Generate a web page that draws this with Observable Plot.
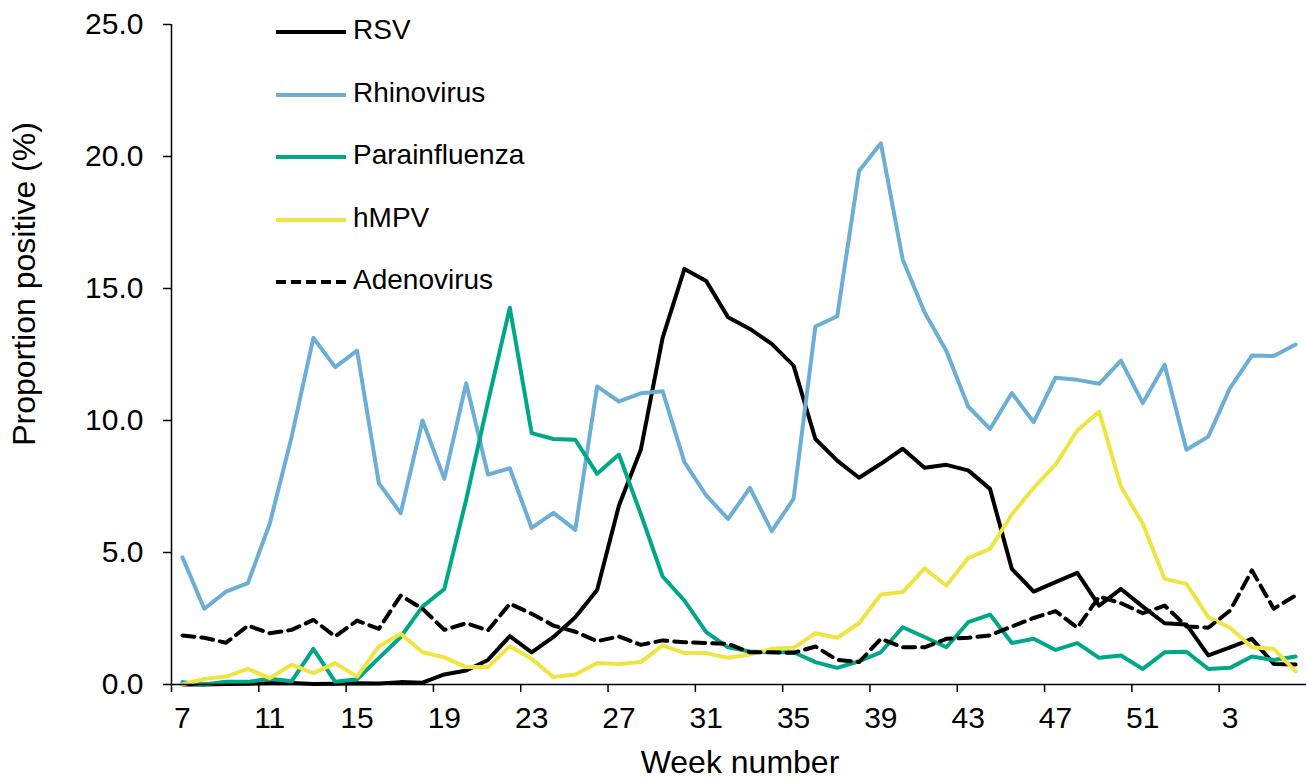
<!DOCTYPE html>
<html><head><meta charset="utf-8">
<script src="https://cdn.jsdelivr.net/npm/d3@7"></script>
<script src="https://cdn.jsdelivr.net/npm/@observablehq/plot@0.6"></script>
<style>
body{margin:0;background:#fff;}
#chart{position:relative;width:1306px;height:778px;}
</style></head><body><div id="chart"></div>
<script>
const weeks = [7,8,9,10,11,12,13,14,15,16,17,18,19,20,21,22,23,24,25,26,27,28,29,30,31,32,33,34,35,36,37,38,39,40,41,42,43,44,45,46,47,48,49,50,51,52,1,2,3,4,5,6];
const tickLabels = ["7","11","15","19","23","27","31","35","39","43","47","51","3"];
const yTicks = [0,5,10,15,20,25];

const rsv = [0,0,0.02,0.03,0.05,0.06,0.02,0.03,0.05,0.04,
  0.09,0.07,0.38,0.53,0.93,1.83,1.22,1.8,2.55,3.58,
  6.78,8.89,13.13,15.74,15.28,13.91,13.47,12.9,12.08,9.3,
  8.48,7.83,8.36,8.93,8.21,8.32,8.11,7.41,4.38,3.52,
  3.88,4.23,2.99,3.62,2.95,2.32,2.27,1.1,1.41,1.73,
  0.78,0.76];
const rhinovirus = [4.82,2.87,3.52,3.84,6.09,9.37,13.13,12.02,12.65,7.63,
  6.49,10.0,7.79,11.41,7.95,8.19,5.93,6.5,5.86,11.29,
  10.72,11.03,11.11,8.42,7.16,6.27,7.45,5.81,7.03,13.56,
  13.95,19.45,20.5,16.1,14.1,12.63,10.53,9.68,11.04,9.94,
  11.62,11.54,11.39,12.27,10.66,12.11,8.89,9.39,11.24,12.46,
  12.44,12.88];
const parainfluenza = [0.09,0,0.1,0.1,0.22,0.12,1.35,0.1,0.2,1.0,
  1.8,2.95,3.62,7.0,10.7,14.27,9.52,9.3,9.27,7.98,
  8.71,6.46,4.09,3.18,1.98,1.41,1.25,1.22,1.22,0.85,
  0.63,0.88,1.22,2.17,1.8,1.41,2.36,2.65,1.57,1.73,
  1.31,1.57,1.01,1.1,0.59,1.22,1.24,0.59,0.63,1.06,
  0.93,1.06];
const hmpv = [0,0.21,0.3,0.59,0.24,0.75,0.43,0.81,0.3,1.44,
  1.92,1.22,1.03,0.66,0.66,1.45,0.97,0.28,0.38,0.81,
  0.78,0.85,1.48,1.19,1.19,1.01,1.14,1.35,1.39,1.94,
  1.77,2.32,3.41,3.5,4.4,3.75,4.79,5.14,6.44,7.45,
  8.33,9.62,10.34,7.5,6.09,4.0,3.81,2.55,2.15,1.41,
  1.35,0.5];
const adenovirus = [1.86,1.77,1.58,2.23,1.94,2.07,2.45,1.82,2.42,2.11,
  3.37,2.87,2.07,2.32,2.05,3.06,2.68,2.23,2.0,1.64,
  1.82,1.5,1.67,1.6,1.57,1.54,1.22,1.22,1.2,1.44,
  0.93,0.85,1.73,1.41,1.41,1.73,1.77,1.86,2.2,2.52,
  2.78,2.15,3.33,3.08,2.7,2.99,2.2,2.15,2.8,4.32,
  2.87,3.37];

const seriesNames = ["RSV","Rhinovirus","Parainfluenza","hMPV","Adenovirus"];
const seriesColors = ["#000000","#6baed6","#00a887","#f0e442","#000000"];
const seriesDash = [null,null,null,null,"12,7"];
const seriesValues = [rsv, rhinovirus, parainfluenza, hmpv, adenovirus];

const FONT = "'Liberation Sans', Arial, Helvetica, sans-serif";
const labelIdx = tickLabels.map((_, k) => k * 4);
const tickPos = labelIdx.map(i => i - 0.5);

const lineMarks = seriesNames.map((name, s) =>
  Plot.line(seriesValues[s].map((v, i) => ({i, v})), {
    x: "i", y: "v", stroke: seriesColors[s], strokeWidth: 4,
    strokeDasharray: seriesDash[s] || undefined, strokeLinejoin: "round"
  })
);

const plot = Plot.plot({
  width: 1306, height: 778,
  marginLeft: 171, marginRight: 0, marginTop: 24, marginBottom: 94,
  style: {fontFamily: FONT, fontSize: "30px", color: "#000", background: "#fff", overflow: "visible"},
  x: {type: "linear", domain: [-0.5, weeks.length - 0.5]},
  y: {domain: [0, 25]},
  marks: [
    Plot.axisY({ticks: yTicks, tickFormat: d => d.toFixed(1), tickSize: 8, tickPadding: 20, label: null, fontSize: 30, strokeWidth: 1.5}),
    Plot.axisX({ticks: tickPos, tickFormat: () => "", tickSize: 8, label: null, strokeWidth: 1.5}),
    Plot.axisX({ticks: labelIdx, tickFormat: i => tickLabels[i / 4], tickSize: 0, tickPadding: 22, label: null, fontSize: 30}),
    Plot.ruleX([-0.5], {stroke: "#000", strokeWidth: 1.5}),
    ...lineMarks,
    Plot.ruleY([0], {stroke: "#000", strokeWidth: 1.5})
  ]
});

document.getElementById("chart").appendChild(plot);
const svg = d3.select(plot);

// axis titles
svg.append("text")
  .attr("transform", "translate(27,284) rotate(-90)")
  .attr("text-anchor", "middle").attr("dominant-baseline", "middle")
  .style("font-family", FONT).style("font-size", "32px").attr("fill", "#000")
  .text("Proportion positive (%)");
svg.append("text")
  .attr("x", 740).attr("y", 773)
  .attr("text-anchor", "middle")
  .style("font-family", FONT).style("font-size", "32px").attr("fill", "#000")
  .text("Week number");

// legend
const legendY = [32, 95, 157, 220, 282];
const lg = svg.append("g").attr("text-anchor", "start");
seriesNames.forEach((name, s) => {
  lg.append("line").attr("x1", 276).attr("x2", 346).attr("y1", legendY[s]).attr("y2", legendY[s])
    .attr("stroke", seriesColors[s]).attr("stroke-width", 4)
    .attr("stroke-dasharray", s === 4 ? "10,5" : null);
  lg.append("text").attr("x", 353).attr("y", legendY[s]).attr("dominant-baseline", "middle")
    .attr("text-anchor", "start")
    .style("font-family", FONT).style("font-size", "28px").attr("fill", "#000").text(name);
});
</script></body></html>
